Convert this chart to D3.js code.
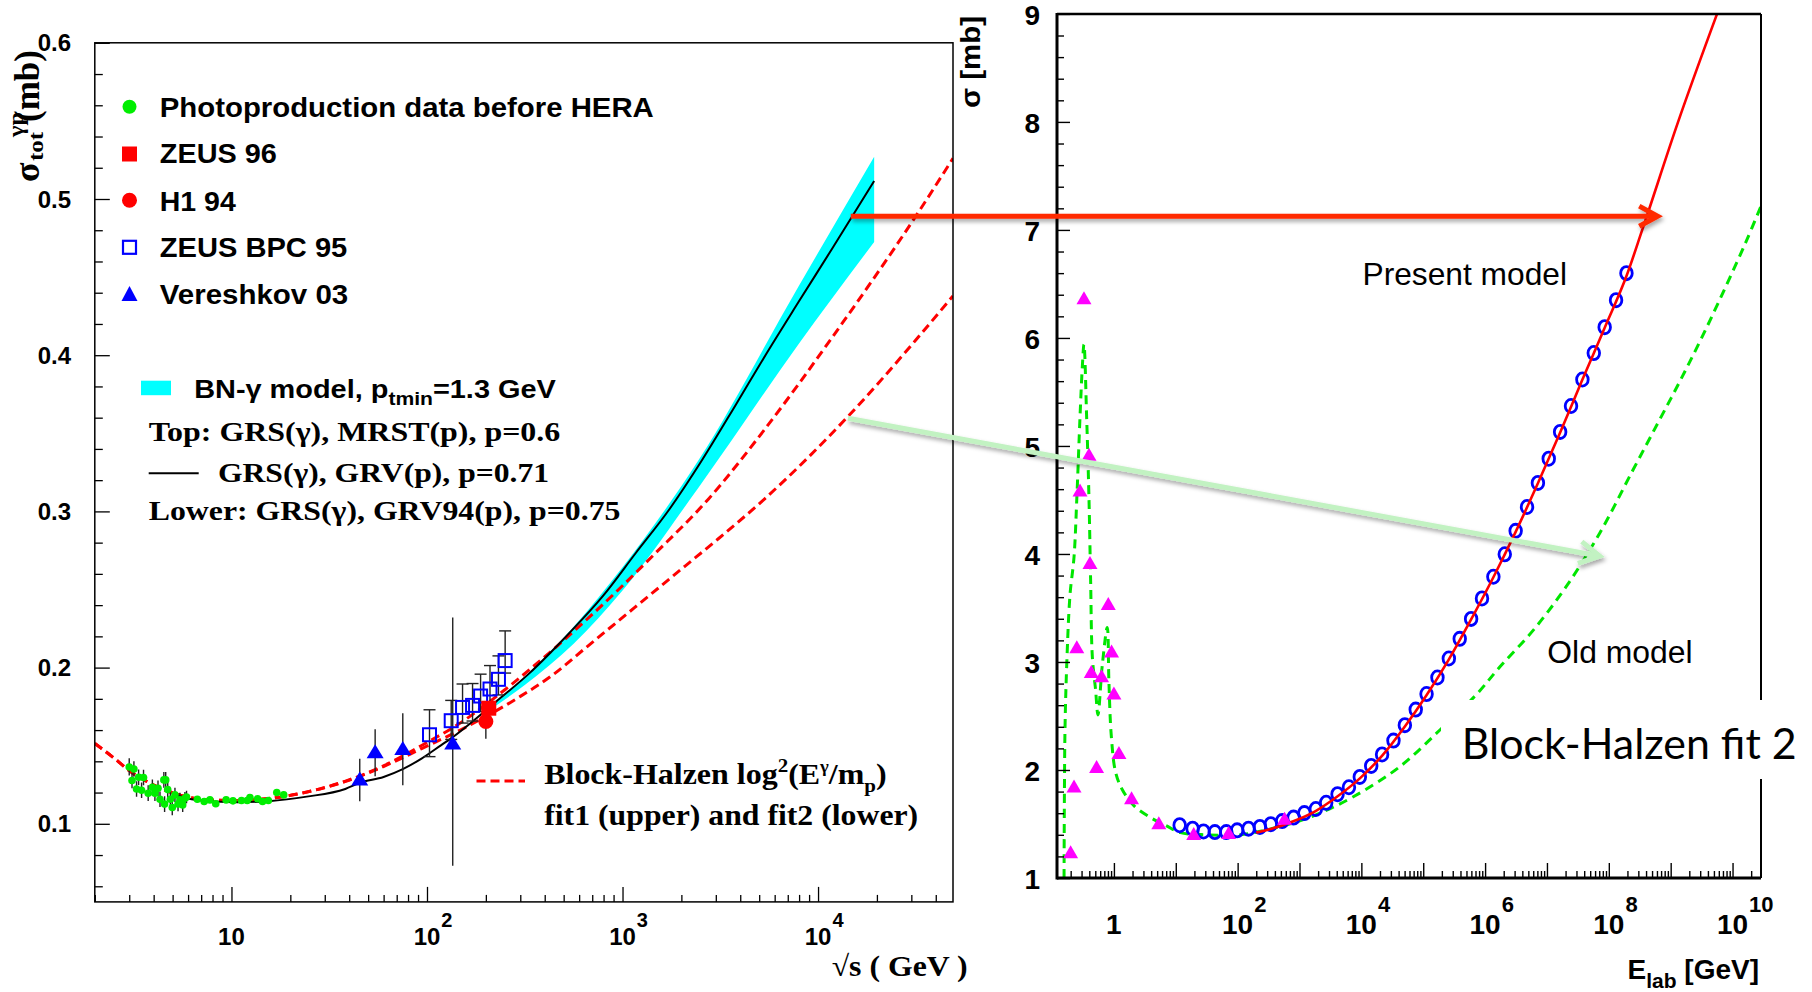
<!DOCTYPE html>
<html>
<head>
<meta charset="utf-8">
<script src="https://cdn.jsdelivr.net/npm/d3@7"></script>
<style>
  html, body { margin: 0; padding: 0; background: #fff; }
  svg { display: block; }
</style>
</head>
<body>
<svg id="chart" width="1812" height="992"></svg>
<script>
// ---------------- Left panel: total gamma-p cross section vs sqrt(s) ----------------
// Photoproduction data before HERA
const photoSqrtS = [3.00,3.17,3.10,3.27,3.35,3.55,3.47,3.75,3.94,4.06,4.21,4.31,4.51,4.61,4.55,4.72,4.87,4.98,5.14,5.33,5.45,5.63,5.78,5.89,6.69,7.25,7.76,8.31,9.39,10.18,11.25,12.04,12.43,13.60,14.42,15.44,17.05,18.50];
const photoSigma = [0.1364,0.1351,0.1277,0.1223,0.1298,0.1296,0.1215,0.1196,0.1234,0.1196,0.1228,0.1157,0.1281,0.1281,0.1126,0.1219,0.1157,0.1104,0.1185,0.1126,0.1153,0.1121,0.1164,0.1172,0.1157,0.1143,0.1153,0.1128,0.1153,0.1147,0.1149,0.1149,0.1168,0.1160,0.1143,0.1149,0.1200,0.1185];
const photoErr = [0.0055,0.005,0.005,0.005,0.005,0.005,0.005,0.005,0.005,0.005,0.005,0.005,0.005,0.005,0.005,0.005,0.005,0.005,0.0045,0.0045,0.0045,0.0045,0.004,0.004,0.002,0.002,0.002,0.002,0.002,0.002,0.002,0.002,0.002,0.002,0.002,0.002,0.002,0.002];

// ZEUS 96 and H1 94
const zeus96 = {sqrtS: 207, sigma: 0.1740, err: 0.004};
const h1_94 = {sqrtS: 200, sigma: 0.1655, err: 0.011};

// ZEUS BPC 95
const bpcSqrtS = [103,133,152,171,188,210,232,251];
const bpcSigma = [0.157,0.166,0.1745,0.1758,0.1818,0.1863,0.1925,0.2045];
const bpcErrUp = [0.016,0.013,0.015,0.014,0.014,0.015,0.015,0.019];
const bpcErrDn = [0.014,0.012,0.010,0.010,0.010,0.010,0.010,0.008];

// Vereshkov 03
const verSqrtS = [45.3,54.3,75.2,135.4];
const verSigma = [0.1281,0.1455,0.1477,0.1511];
const verErrUp = [0.0136,0.015,0.023,0.081];
const verErrDn = [0.0136,0.015,0.023,0.078];

// BN-gamma model, GRS(gamma), GRV(p), p=0.71 (log10 sqrt(s), sigma)
const bnLogS = [0.697,0.796,0.914,1.031,1.189,1.385,1.582,1.656,1.778,1.876,1.974,2.073,2.123,2.353,2.523,2.727,2.897,3.067,3.237,3.407,3.578,3.731,3.900,4.071,4.287];
const bnSigma = [0.1191,0.1157,0.1143,0.1138,0.1145,0.1174,0.1223,0.1262,0.1300,0.1350,0.1419,0.1504,0.1547,0.1782,0.1963,0.2220,0.2454,0.2732,0.3009,0.3329,0.3680,0.4000,0.4340,0.4680,0.5115];

// BN-gamma band: top (MRST) and lower (GRV94) edges
const bandLogS = [2.28,2.50,2.75,3.00,3.39,3.90,4.287];
const bandUpper = [0.1707,0.1940,0.2262,0.2643,0.3330,0.4440,0.5270];
const bandLower = [0.1697,0.1888,0.2152,0.2493,0.3155,0.4070,0.4725];

// Block-Halzen log^2 fits
const fit1LogS = [0.301,0.40,0.48,0.60,0.70,0.80,0.91,1.03,1.19,1.385,1.58,1.78,1.97,2.17,2.40,2.64,2.81,2.98,3.15,3.44,3.73,4.07,4.50,4.69];
const fit1Sigma = [0.1515,0.1420,0.1338,0.1250,0.1198,0.1166,0.1151,0.1149,0.1162,0.1203,0.1272,0.1372,0.1500,0.1645,0.1860,0.2110,0.2300,0.2500,0.2710,0.3080,0.3530,0.4110,0.4890,0.5260];
const fit2LogS = [0.301,0.40,0.48,0.60,0.70,0.80,0.91,1.03,1.19,1.385,1.58,1.78,1.97,2.17,2.30,2.47,2.64,2.81,2.98,3.15,3.32,3.49,3.73,4.16,4.50,4.69];
const fit2Sigma = [0.1515,0.1420,0.1338,0.1250,0.1198,0.1166,0.1151,0.1149,0.1162,0.1203,0.1270,0.1368,0.1480,0.1600,0.1686,0.1810,0.1950,0.2125,0.2300,0.2475,0.2650,0.2825,0.3084,0.3617,0.4097,0.4380];

const leftYTicks = [0.1,0.2,0.3,0.4,0.5,0.6];
const leftYLabels = ["0.1","0.2","0.3","0.4","0.5","0.6"];
const leftXDecades = [1,2,3,4];

// ---------------- Right panel: sigma vs E_lab ----------------
const circleLgE = [1.063,1.272,1.448,1.632,1.816,1.992,2.176,2.360,2.536,2.720,2.904,3.079,3.264,3.431,3.615,3.799,3.975,4.159,4.335,4.519,4.703,4.879,5.054,5.230,5.414,5.590,5.774,5.950,6.134,6.318,6.494,6.678,6.854,7.029,7.213,7.389,7.573,7.757,7.933,8.117,8.285];
const circleSigma = [1.489,1.457,1.431,1.425,1.425,1.441,1.457,1.473,1.498,1.527,1.559,1.601,1.639,1.696,1.776,1.840,1.936,2.038,2.144,2.272,2.415,2.559,2.703,2.856,3.032,3.214,3.399,3.588,3.789,3.997,4.214,4.435,4.658,4.882,5.130,5.370,5.615,5.860,6.100,6.350,6.600];

const triLgE = [-0.70,-0.645,-0.60,-0.548,-0.484,-0.403,-0.387,-0.366,-0.28,-0.199,-0.091,-0.038,0.0,0.081,0.285,0.726,1.29,1.855,2.758];
const triSigma = [1.23,1.84,3.13,4.58,6.36,4.91,3.91,2.90,2.02,2.86,3.53,3.09,2.70,2.15,1.73,1.50,1.40,1.41,1.54];

const presentLgE = [2.30,2.55,2.90,3.26,3.60,3.98,4.34,4.70,5.05,5.41,5.77,6.13,6.49,6.85,7.21,7.57,7.93,8.29,8.54,9.12,9.75];
const presentSigma = [1.420,1.455,1.525,1.620,1.750,1.925,2.135,2.400,2.690,3.020,3.390,3.780,4.200,4.650,5.120,5.610,6.090,6.580,7.000,8.000,9.000];

const oldLgE = [-0.806,-0.800,-0.790,-0.763,-0.71,-0.645,-0.60,-0.548,-0.511,-0.484,-0.441,-0.403,-0.376,-0.349,-0.296,-0.258,-0.188,-0.108,-0.081,-0.043,0.027,0.134,0.323,0.591,0.860,1.075,1.505,2.043,2.50,2.90,3.33,3.87,4.62,5.27,5.85,6.24,6.78,7.31,7.85,8.39,8.80,9.15,9.50,9.87,10.21,10.46];
const oldSigma = [1.00,1.80,2.40,2.97,3.62,3.97,4.51,5.27,5.73,5.94,5.27,4.51,3.74,3.05,2.74,2.51,2.97,3.32,2.82,2.32,1.98,1.82,1.67,1.56,1.48,1.42,1.40,1.40,1.45,1.51,1.60,1.752,2.03,2.37,2.693,2.955,3.295,3.697,4.19,4.777,5.22,5.60,6.00,6.45,6.88,7.22];

const rightYTicks = [1,2,3,4,5,6,7,8,9];
const rightXLabelExps = [0,2,4,6,8,10];

// Arrows linking the two panels (left-panel point -> right-panel point)
const redArrow = {fromSqrtS: 14700, fromSigma: 0.489, toLgE: 8.79};
const greenArrow = {fromSqrtS: 14220, fromSigma: 0.3596, toLgE: 7.852, toSigma: 3.98};

// ---------------- drawing ----------------
const SANS = "'Liberation Sans', Arial, Helvetica, sans-serif";
const SERIF = "'Liberation Serif', 'Times New Roman', serif";
const svg = d3.select('#chart');

const L = {left: 94.8, right: 953, top: 42.8, bottom: 901.9};
const R = {left: 1057, right: 1761, top: 13.9, bottom: 878};

const xL = d3.scaleLog().domain([2, 49000]).range([L.left, L.right]);
const yL = d3.scaleLinear().domain([0.05, 0.6]).range([L.bottom, L.top]);
const xR = d3.scaleLog().domain([Math.pow(10, -0.92), Math.pow(10, 10.46)]).range([R.left, R.right]);
const yR = d3.scaleLinear().domain([1, 9]).range([R.bottom, R.top]);
const p10 = v => Math.pow(10, v);

const defs = svg.append('defs');
defs.append('clipPath').attr('id', 'clipL').append('rect')
  .attr('x', L.left).attr('y', L.top).attr('width', L.right - L.left).attr('height', L.bottom - L.top);
defs.append('clipPath').attr('id', 'clipR').append('rect')
  .attr('x', R.left).attr('y', R.top).attr('width', R.right - R.left).attr('height', R.bottom - R.top);
const shadow = defs.append('filter').attr('id', 'shadow').attr('x', '-10%').attr('y', '-50%').attr('width', '120%').attr('height', '300%');
shadow.append('feDropShadow').attr('dx', 1.5).attr('dy', 3).attr('stdDeviation', 2)
  .attr('flood-color', '#000').attr('flood-opacity', 0.35);

// ===== Left panel =====
const gL = svg.append('g');
const plotL = gL.append('g').attr('clip-path', 'url(#clipL)');

// BN-gamma band
const band = bandLogS.map((l, i) => ({x: p10(l), lo: bandLower[i], hi: bandUpper[i]}));
plotL.append('path').datum(band)
  .attr('d', d3.area().x(d => xL(d.x)).y0(d => yL(d.lo)).y1(d => yL(d.hi)).curve(d3.curveMonotoneX))
  .attr('fill', '#00ffff');

// Block-Halzen fits
const lineL = d3.line().x(d => xL(d[0])).y(d => yL(d[1])).curve(d3.curveMonotoneX);
[[fit1LogS, fit1Sigma], [fit2LogS, fit2Sigma]].forEach(([xs, ys]) => {
  plotL.append('path').datum(xs.map((l, i) => [p10(l), ys[i]]))
    .attr('d', lineL).attr('fill', 'none').attr('stroke', '#ff0000')
    .attr('stroke-width', 3).attr('stroke-dasharray', '9,5');
});

// BN-gamma central curve
plotL.append('path').datum(bnLogS.map((l, i) => [p10(l), bnSigma[i]]))
  .attr('d', lineL).attr('fill', 'none').attr('stroke', '#000').attr('stroke-width', 2);

// Error bars
const errG = plotL.append('g').attr('stroke', '#222').attr('stroke-width', 1.4);
photoSqrtS.forEach((s, i) => {
  errG.append('line').attr('x1', xL(s)).attr('x2', xL(s))
    .attr('y1', yL(photoSigma[i] - photoErr[i])).attr('y2', yL(photoSigma[i] + photoErr[i]));
});
verSqrtS.forEach((s, i) => {
  errG.append('line').attr('x1', xL(s)).attr('x2', xL(s))
    .attr('y1', yL(verSigma[i] - verErrDn[i])).attr('y2', yL(verSigma[i] + verErrUp[i]));
});
bpcSqrtS.forEach((s, i) => {
  const x = xL(s), yt = yL(bpcSigma[i] + bpcErrUp[i]), yb = yL(bpcSigma[i] - bpcErrDn[i]);
  errG.append('line').attr('x1', x).attr('x2', x).attr('y1', yb).attr('y2', yt);
  errG.append('line').attr('x1', x - 6).attr('x2', x + 6).attr('y1', yt).attr('y2', yt);
  errG.append('line').attr('x1', x - 6).attr('x2', x + 6).attr('y1', yb).attr('y2', yb);
});
[h1_94, zeus96].forEach(p => {
  errG.append('line').attr('x1', xL(p.sqrtS)).attr('x2', xL(p.sqrtS))
    .attr('y1', yL(p.sigma - p.err)).attr('y2', yL(p.sigma + p.err));
});

// Markers
plotL.append('g').selectAll('circle').data(photoSqrtS).join('circle')
  .attr('cx', d => xL(d)).attr('cy', (d, i) => yL(photoSigma[i])).attr('r', 3.8).attr('fill', '#00ee00');

const triPath = (w, h) => `M0,${-h * 0.6}L${w / 2},${h * 0.4}L${-w / 2},${h * 0.4}Z`;
plotL.append('g').selectAll('path').data(verSqrtS).join('path')
  .attr('transform', (d, i) => `translate(${xL(d)},${yL(verSigma[i])})`)
  .attr('d', triPath(17, 14)).attr('fill', '#0000ff');

plotL.append('g').selectAll('rect').data(bpcSqrtS).join('rect')
  .attr('x', d => xL(d) - 6.5).attr('y', (d, i) => yL(bpcSigma[i]) - 6.5)
  .attr('width', 13).attr('height', 13).attr('fill', 'none').attr('stroke', '#0000ff').attr('stroke-width', 2);

plotL.append('rect').attr('x', xL(zeus96.sqrtS) - 7.5).attr('y', yL(zeus96.sigma) - 7.5)
  .attr('width', 15).attr('height', 15).attr('fill', '#ff0000');
plotL.append('circle').attr('cx', xL(h1_94.sqrtS)).attr('cy', yL(h1_94.sigma)).attr('r', 7.5).attr('fill', '#ff0000');

// Frame and ticks
gL.append('rect').attr('x', L.left).attr('y', L.top).attr('width', L.right - L.left).attr('height', L.bottom - L.top)
  .attr('fill', 'none').attr('stroke', '#000').attr('stroke-width', 1.5);

const yMinorL = d3.range(6, 60, 2).filter(v => v % 10 !== 0).map(v => v / 100);
const axYLmin = gL.append('g').attr('transform', `translate(${L.left},0)`)
  .call(d3.axisLeft(yL).tickValues(yMinorL).tickSize(-8).tickFormat(''));
const axYLmaj = gL.append('g').attr('transform', `translate(${L.left},0)`)
  .call(d3.axisLeft(yL).tickValues(leftYTicks).tickSize(-15).tickFormat(''));

const xMinorL = [];
for (let d = 0; d <= 4; d++) for (let m = 2; m <= 9; m++) {
  const v = m * Math.pow(10, d);
  if (v >= 2 && v <= 49000) xMinorL.push(v);
}
const axXLmin = gL.append('g').attr('transform', `translate(0,${L.bottom})`)
  .call(d3.axisBottom(xL).tickValues(xMinorL).tickSize(-7).tickFormat(''));
const axXLmaj = gL.append('g').attr('transform', `translate(0,${L.bottom})`)
  .call(d3.axisBottom(xL).tickValues(leftXDecades.map(p10)).tickSize(-15).tickFormat(''));
[axYLmin, axYLmaj, axXLmin, axXLmaj].forEach(a => {
  a.select('.domain').remove();
  a.selectAll('line').attr('stroke', '#000').attr('stroke-width', 1.3);
});

// Tick labels
gL.append('g').selectAll('text').data(leftYTicks).join('text')
  .attr('x', 71).attr('y', d => yL(d)).attr('dy', '0.36em')
  .attr('text-anchor', 'end').attr('font-family', SANS).attr('font-weight', 'bold').attr('font-size', 24)
  .text((d, i) => leftYLabels[i]);

function powerLabel(g, x, baseY, exp, size, supSize, supRise, font) {
  const base = g.append('text').attr('x', x).attr('y', baseY).attr('text-anchor', 'middle')
    .attr('font-family', font).attr('font-weight', 'bold').attr('font-size', size)
    .text(exp === 0 ? '1' : '10');
  if (exp > 1) {
    const w = base.node().getComputedTextLength();
    g.append('text').attr('x', x + w / 2 + 1).attr('y', baseY - supRise)
      .attr('font-family', font).attr('font-weight', 'bold').attr('font-size', supSize).text(exp);
  }
}
leftXDecades.forEach(e => powerLabel(gL, xL(p10(e)), 945, e, 24, 20, 18, SANS));

// Axis titles
const yTitle = gL.append('g').attr('transform', 'translate(39,182) rotate(-90)')
  .attr('font-family', SERIF).attr('font-weight', 'bold');
yTitle.append('text').attr('x', 0).attr('y', 0).attr('font-size', 36).text('σ');
yTitle.append('text').attr('x', 21).attr('y', 4).attr('font-size', 21)
  .attr('textLength', 29).attr('lengthAdjust', 'spacingAndGlyphs').text('tot');
yTitle.append('text').attr('x', 45).attr('y', -16).attr('font-size', 22)
  .attr('textLength', 25).attr('lengthAdjust', 'spacingAndGlyphs').text('γp');
yTitle.append('text').attr('x', 60).attr('y', 0).attr('font-size', 36)
  .attr('textLength', 72).attr('lengthAdjust', 'spacingAndGlyphs').text('(mb)');

gL.append('text').attr('x', 831.7).attr('y', 976).attr('font-family', SERIF).attr('font-weight', 'bold')
  .attr('font-size', 29).attr('textLength', 136).attr('lengthAdjust', 'spacingAndGlyphs').text('√s ( GeV )');

// Legend (data sets)
const legRows = [
  {label: 'Photoproduction data before HERA', y: 106.7, base: 116.7, len: 494},
  {label: 'ZEUS 96', y: 154, base: 163.3, len: 117},
  {label: 'H1 94', y: 200.3, base: 210.7, len: 76},
  {label: 'ZEUS BPC 95', y: 247.3, base: 257.3, len: 187.5},
  {label: 'Vereshkov 03', y: 295, base: 304, len: 188.4}
];
const mx = 129.5;
gL.append('circle').attr('cx', mx).attr('cy', legRows[0].y).attr('r', 7).attr('fill', '#00ee00');
gL.append('rect').attr('x', mx - 7.5).attr('y', legRows[1].y - 7.5).attr('width', 15).attr('height', 15).attr('fill', '#ff0000');
gL.append('circle').attr('cx', mx).attr('cy', legRows[2].y).attr('r', 7.5).attr('fill', '#ff0000');
gL.append('rect').attr('x', mx - 6.5).attr('y', legRows[3].y - 6.5).attr('width', 13).attr('height', 13)
  .attr('fill', 'none').attr('stroke', '#0000ff').attr('stroke-width', 2.2);
gL.append('path').attr('transform', `translate(${mx},${legRows[4].y})`).attr('d', triPath(16, 15)).attr('fill', '#0000ff');
legRows.forEach(r => {
  gL.append('text').attr('x', 159.8).attr('y', r.base).attr('font-family', SANS).attr('font-weight', 'bold')
    .attr('font-size', 28).attr('textLength', r.len).attr('lengthAdjust', 'spacingAndGlyphs').text(r.label);
});

// Legend (model)
gL.append('rect').attr('x', 141).attr('y', 380.7).attr('width', 30).attr('height', 14.5).attr('fill', '#00ffff');
const bnText = gL.append('text').attr('x', 194.2).attr('y', 398.3).attr('font-family', SANS)
  .attr('font-weight', 'bold').attr('font-size', 26);
bnText.append('tspan').text('BN-γ model, p');
bnText.append('tspan').attr('font-size', 19).attr('dy', 7).text('tmin');
bnText.append('tspan').attr('dy', -7).text('=1.3 GeV');
bnText.attr('textLength', 361.6).attr('lengthAdjust', 'spacingAndGlyphs');

const serifLines = [
  {x: 148.7, y: 440.7, len: 411.6, t: 'Top: GRS(γ), MRST(p), p=0.6'},
  {x: 217.9, y: 481.7, len: 331.2, t: 'GRS(γ), GRV(p), p=0.71'},
  {x: 148.7, y: 520, len: 471.8, t: 'Lower: GRS(γ), GRV94(p), p=0.75'}
];
serifLines.forEach(s => {
  gL.append('text').attr('x', s.x).attr('y', s.y).attr('font-family', SERIF).attr('font-weight', 'bold')
    .attr('font-size', 28).attr('textLength', s.len).attr('lengthAdjust', 'spacingAndGlyphs').text(s.t);
});
gL.append('line').attr('x1', 148.7).attr('x2', 198.7).attr('y1', 473.3).attr('y2', 473.3)
  .attr('stroke', '#000').attr('stroke-width', 2);

gL.append('line').attr('x1', 476.5).attr('x2', 525).attr('y1', 781).attr('y2', 781)
  .attr('stroke', '#ff0000').attr('stroke-width', 3).attr('stroke-dasharray', '9,5');
const bhText = gL.append('text').attr('x', 544.2).attr('y', 784).attr('font-family', SERIF)
  .attr('font-weight', 'bold').attr('font-size', 29);
bhText.append('tspan').text('Block-Halzen log');
bhText.append('tspan').attr('font-size', 19).attr('dy', -12).text('2');
bhText.append('tspan').attr('dy', 12).text('(E');
bhText.append('tspan').attr('font-size', 17).attr('dy', -12).text('γ');
bhText.append('tspan').attr('dy', 12).text('/m');
bhText.append('tspan').attr('font-size', 19).attr('dy', 8).text('p');
bhText.append('tspan').attr('dy', -8).text(')');
bhText.attr('textLength', 342.5).attr('lengthAdjust', 'spacingAndGlyphs');
gL.append('text').attr('x', 544.2).attr('y', 825).attr('font-family', SERIF).attr('font-weight', 'bold')
  .attr('font-size', 29).attr('textLength', 374).attr('lengthAdjust', 'spacingAndGlyphs')
  .text('fit1 (upper) and fit2 (lower)');

// ===== Right panel =====
const gR = svg.append('g');
const plotR = gR.append('g').attr('clip-path', 'url(#clipR)');

plotR.append('path').datum(oldLgE.map((l, i) => [p10(l), oldSigma[i]]))
  .attr('d', d3.line().x(d => xR(d[0])).y(d => yR(d[1])).curve(d3.curveCatmullRom.alpha(0.5)))
  .attr('fill', 'none').attr('stroke', '#00e600').attr('stroke-width', 3).attr('stroke-dasharray', '9,6');

plotR.append('g').selectAll('ellipse').data(circleLgE).join('ellipse')
  .attr('cx', d => xR(p10(d))).attr('cy', (d, i) => yR(circleSigma[i]))
  .attr('rx', 5.8).attr('ry', 6.6).attr('fill', 'none').attr('stroke', '#0000ff').attr('stroke-width', 2.8);

plotR.append('path').datum(presentLgE.map((l, i) => [p10(l), presentSigma[i]]))
  .attr('d', d3.line().x(d => xR(d[0])).y(d => yR(d[1])).curve(d3.curveMonotoneX))
  .attr('fill', 'none').attr('stroke', '#ff0000').attr('stroke-width', 2.6);

plotR.append('g').selectAll('path').data(triLgE).join('path')
  .attr('transform', (d, i) => `translate(${xR(p10(d))},${yR(triSigma[i])})`)
  .attr('d', triPath(15, 13)).attr('fill', '#ff00ff');

// Frame
gR.append('line').attr('x1', R.left).attr('x2', R.right).attr('y1', R.top).attr('y2', R.top).attr('stroke', '#000').attr('stroke-width', 2.5);
gR.append('line').attr('x1', R.right).attr('x2', R.right).attr('y1', R.top).attr('y2', R.bottom).attr('stroke', '#000').attr('stroke-width', 2);
gR.append('line').attr('x1', R.left).attr('x2', R.left).attr('y1', R.top - 1).attr('y2', R.bottom + 1.5).attr('stroke', '#000').attr('stroke-width', 3);
gR.append('line').attr('x1', R.left).attr('x2', R.right).attr('y1', R.bottom).attr('y2', R.bottom).attr('stroke', '#000').attr('stroke-width', 3);

const yMinorR = d3.range(12, 90, 2).filter(v => v % 10 !== 0).map(v => v / 10);
const axYRmin = gR.append('g').attr('transform', `translate(${R.left},0)`)
  .call(d3.axisLeft(yR).tickValues(yMinorR).tickSize(-7).tickFormat(''));
const axYRmaj = gR.append('g').attr('transform', `translate(${R.left},0)`)
  .call(d3.axisLeft(yR).tickValues(rightYTicks).tickSize(-13).tickFormat(''));
const xMajR = [], xMinR = [];
for (let d = -1; d <= 10; d++) {
  if (d >= 0) xMajR.push(p10(d));
  for (let m = 2; m <= 9; m++) {
    const v = m * p10(d);
    if (v > p10(-0.92) && v < p10(10.46)) xMinR.push(v);
  }
}
const axXRmin = gR.append('g').attr('transform', `translate(0,${R.bottom})`)
  .call(d3.axisBottom(xR).tickValues(xMinR).tickSize(-7).tickFormat(''));
const axXRmaj = gR.append('g').attr('transform', `translate(0,${R.bottom})`)
  .call(d3.axisBottom(xR).tickValues(xMajR).tickSize(-15).tickFormat(''));
[axYRmin, axYRmaj, axXRmin, axXRmaj].forEach(a => {
  a.select('.domain').remove();
  a.selectAll('line').attr('stroke', '#000').attr('stroke-width', 1.4);
});

gR.append('g').selectAll('text').data(rightYTicks).join('text')
  .attr('x', 1040).attr('y', d => yR(d) + 11.3).attr('text-anchor', 'end')
  .attr('font-family', SANS).attr('font-weight', 'bold').attr('font-size', 28).text(d => d);
rightXLabelExps.forEach(e => powerLabel(gR, xR(p10(e)), 934, e, 28, 22, 22, SANS));

const eTitle = gR.append('text').attr('x', 1759).attr('y', 979).attr('text-anchor', 'end')
  .attr('font-family', SANS).attr('font-weight', 'bold').attr('font-size', 28);
eTitle.append('tspan').text('E');
eTitle.append('tspan').attr('font-size', 21).attr('dy', 9).text('lab');
eTitle.append('tspan').attr('dy', -9).text(' [GeV]');

gR.append('text').attr('transform', 'translate(980,108) rotate(-90)')
  .attr('font-family', SANS).attr('font-weight', 'bold').attr('font-size', 28)
  .attr('textLength', 92).attr('lengthAdjust', 'spacingAndGlyphs').text('σ [mb]');

gR.append('text').attr('x', 1362.5).attr('y', 285).attr('font-family', SANS).attr('font-size', 32)
  .attr('textLength', 204.5).attr('lengthAdjust', 'spacingAndGlyphs').text('Present model');
gR.append('text').attr('x', 1547.3).attr('y', 662.7).attr('font-family', SANS).attr('font-size', 31)
  .attr('textLength', 145.4).attr('lengthAdjust', 'spacingAndGlyphs').text('Old model');

// Block-Halzen fit 2 caption on a white box
svg.append('rect').attr('x', 1441).attr('y', 700).attr('width', 371).attr('height', 79).attr('fill', '#fff');
svg.append('text').attr('x', 1461.7).attr('y', 759).attr('font-family', "Lato, 'Open Sans', sans-serif")
  .attr('font-size', 43).attr('textLength', 335).attr('lengthAdjust', 'spacingAndGlyphs').text('Block-Halzen fit 2');

// ===== Arrows =====
function arrow(x1, y1, x2, y2, color, width, armLen, armAng) {
  const g = svg.append('g').attr('filter', 'url(#shadow)').attr('stroke', color)
    .attr('stroke-width', width).attr('fill', 'none').attr('stroke-linecap', 'butt');
  const a = Math.atan2(y2 - y1, x2 - x1);
  g.append('line').attr('x1', x1).attr('y1', y1).attr('x2', x2 - Math.cos(a) * 2).attr('y2', y2 - Math.sin(a) * 2);
  const p1 = [x2 - armLen * Math.cos(a - armAng), y2 - armLen * Math.sin(a - armAng)];
  const p2 = [x2 - armLen * Math.cos(a + armAng), y2 - armLen * Math.sin(a + armAng)];
  g.append('path').attr('d', `M${p1}L${x2},${y2}L${p2}`).attr('stroke-linejoin', 'miter');
}
const ra0 = [xL(redArrow.fromSqrtS), yL(redArrow.fromSigma)];
arrow(ra0[0], ra0[1], xR(p10(redArrow.toLgE)), ra0[1], '#ff2a00', 5, 21, 0.5);
arrow(xL(greenArrow.fromSqrtS), yL(greenArrow.fromSigma), xR(p10(greenArrow.toLgE)), yR(greenArrow.toSigma),
  '#c2f2c2', 5, 23, 0.5);
</script>
</body>
</html>
